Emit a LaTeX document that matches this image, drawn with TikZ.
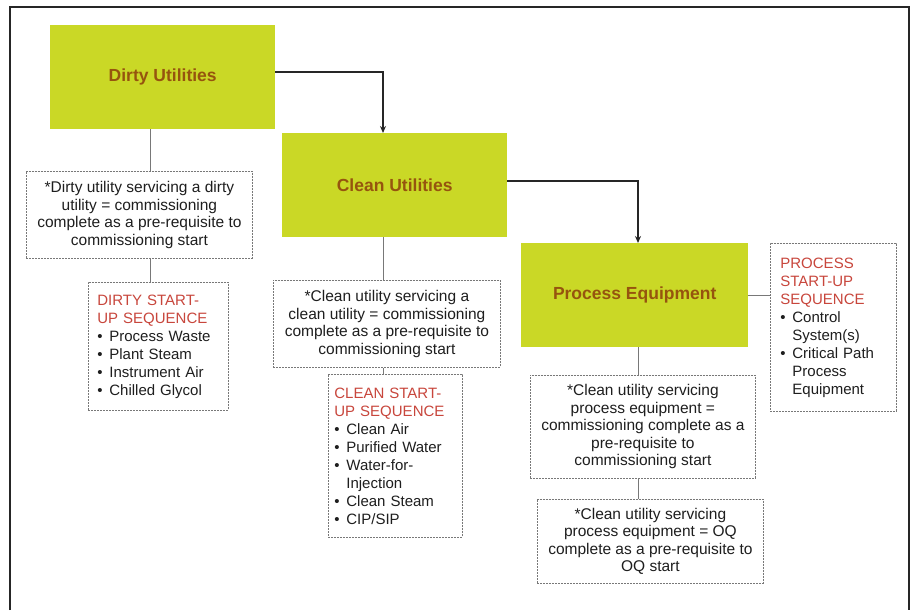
\documentclass[tikz,border=0pt]{standalone}
\usepackage{fontspec}
\setmainfont{Liberation Sans}
\usetikzlibrary{arrows.meta}

\definecolor{utilfill}{RGB}{202,216,38}
\definecolor{titlecol}{RGB}{150,84,14}
\definecolor{seqred}{RGB}{200,70,60}
\definecolor{boxgray}{RGB}{120,120,120}
\definecolor{textgray}{RGB}{30,30,30}

% bullet item and its continuation line with hanging indent
\newcommand\bitem[1]{\makebox[12pt][l]{\textbullet}#1}
\newcommand\bcont[1]{\hspace*{12pt}#1}

\begin{document}
\begin{tikzpicture}[x=1pt,y=-1pt,
  util/.style={fill=utilfill, draw=none, anchor=north west, inner sep=0pt,
    text=titlecol, font=\fontsize{17.5}{20}\selectfont\bfseries},
  notebox/.style={draw=boxgray, line width=0.8pt, dash pattern=on 2pt off 1pt,
    fill=white, anchor=north west, inner sep=0pt, align=center,
    text=textgray, font=\fontsize{15.5}{17.5}\selectfont},
  seqbox/.style={draw=boxgray, line width=0.8pt, dash pattern=on 2pt off 1pt,
    fill=white, anchor=north west, inner ysep=0pt, align=left,
    text=textgray, font=\fontsize{15}{18}\selectfont},
  link/.style={draw=boxgray, line width=0.8pt},
  flow/.style={draw=black!85, line width=1.5pt,
    -{Stealth[length=7pt,width=6pt]}}
]
\useasboundingbox (0,0) rectangle (912,610);

% outer frame, open at the bottom
\draw[line width=1.4pt, draw=black!85] (10,610) -- (10,7) -- (909,7) -- (909,610);

% x positions of the vertical links in each column
\coordinate (dx) at (150,0);
\coordinate (cx) at (383,0);
\coordinate (px) at (638,0);

% utility blocks
\node[util, minimum width=225pt, minimum height=104pt] (dirty) at (50,25) {Dirty Utilities};
\node[util, minimum width=225pt, minimum height=104pt] (clean) at (282,133) {Clean Utilities};
\node[util, minimum width=227pt, minimum height=104pt] (proc) at (521,243) {Process Equipment};

% flow between blocks
\draw[flow] ([yshift=5pt]dirty.east) -| (clean.north -| cx);
\draw[flow] ([yshift=4pt]clean.east) -| (proc.north -| px);

% dirty utility column
\node[notebox, minimum width=226pt, minimum height=87pt] (dnote) at (26,171)
  {*Dirty utility servicing a dirty\\utility = commissioning\\complete as a pre-requisite to\\commissioning start};
\node[seqbox, inner xsep=9pt, text width=122pt, minimum height=128pt] (dseq) at (88,282)
  {\textcolor{seqred}{DIRTY START-}\\\textcolor{seqred}{UP SEQUENCE}\\
   \bitem{Process Waste}\\\bitem{Plant Steam}\\\bitem{Instrument Air}\\\bitem{Chilled Glycol}};
\draw[link] (dirty.south -| dx) -- (dnote.north -| dx);
\draw[link] (dnote.south -| dx) -- (dseq.north -| dx);

% clean utility column
\node[notebox, minimum width=227pt, minimum height=87pt] (cnote) at (273,280)
  {*Clean utility servicing a\\clean utility = commissioning\\complete as a pre-requisite to\\commissioning start};
\node[seqbox, inner xsep=6pt, text width=122pt, minimum height=163pt] (cseq) at (328,374)
  {\textcolor{seqred}{CLEAN START-}\\\textcolor{seqred}{UP SEQUENCE}\\
   \bitem{Clean Air}\\\bitem{Purified Water}\\\bitem{Water-for-}\\\bcont{Injection}\\
   \bitem{Clean Steam}\\\bitem{CIP/SIP}};
\draw[link] (clean.south -| cx) -- (cnote.north -| cx);
\draw[link] (cnote.south -| cx) -- (cseq.north -| cx);

% process equipment column
\node[seqbox, inner xsep=10pt, text width=106pt, minimum height=168pt] (pseq) at (770,243)
  {\textcolor{seqred}{PROCESS}\\\textcolor{seqred}{START-UP}\\\textcolor{seqred}{SEQUENCE}\\
   \bitem{Control}\\\bcont{System(s)}\\\bitem{Critical Path}\\\bcont{Process}\\\bcont{Equipment}};
\draw[link] (proc.east) -- (proc.east -| pseq.west);

\node[notebox, minimum width=225pt, minimum height=103pt] (pnote) at (530,375)
  {*Clean utility servicing\\process equipment =\\commissioning complete as a\\pre-requisite to\\commissioning start};
\node[notebox, minimum width=226pt, minimum height=84pt] (oqnote) at (537,499)
  {*Clean utility servicing\\process equipment = OQ\\complete as a pre-requisite to\\OQ start};
\draw[link] (proc.south -| px) -- (pnote.north -| px);
\draw[link] (pnote.south -| px) -- (oqnote.north -| px);
\end{tikzpicture}
\end{document}
